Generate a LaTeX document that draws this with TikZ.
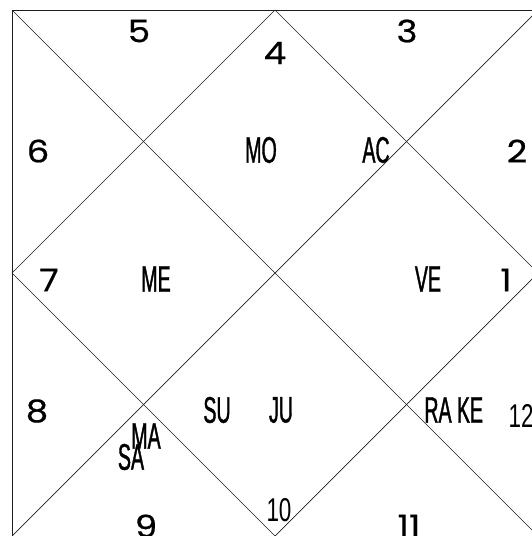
\documentclass[tikz,border=0pt]{standalone}
\usepackage{fontspec}
\newfontfamily\housefont[FakeStretch=1.15,FakeBold=0.6]{Poppins}
\newfontfamily\planetfont[FakeStretch=0.53,FakeBold=1]{Liberation Sans}
\newfontfamily\smallnumfont[FakeStretch=0.68]{Liberation Sans}
\usetikzlibrary{positioning}
\definecolor{chartline}{RGB}{30,30,30}

\begin{document}
\begin{tikzpicture}[x=1pt,y=-1pt,
        num/.style={font=\housefont\fontsize{31}{31}\selectfont,
                    inner sep=0pt},
        pl/.style={font=\planetfont\fontsize{37}{37}\selectfont,
                   inner sep=0pt},
        smallnum/.style={font=\smallnumfont\fontsize{33}{33}\selectfont,
                         inner sep=0pt},
        chart/.style={draw=chartline, line width=0.7pt}
      ]
        \useasboundingbox (0,0) rectangle (532,536);
        \clip (0,0) rectangle (532,536);
        % outer square, diagonals and diamond
        \coordinate (tl) at (12,10);  \coordinate (tr) at (538,10);
        \coordinate (bl) at (12,536); \coordinate (br) at (538,536);
        \coordinate (tm) at (275,10); \coordinate (rm) at (538,273);
        \coordinate (bm) at (275,536); \coordinate (lm) at (12,273);
        \draw[chart] (tl) rectangle (br);
        \draw[chart] (tl) -- (br);
        \draw[chart] (tr) -- (bl);
        \draw[chart] (tm) -- (rm) -- (bm) -- (lm) -- cycle;
        % house numbers
        \node[num] (h1) at (506,280) {1};
        \node[num] (h2) at (517,151) {2};
        \node[num] (h3) at (407,31) {3};
        \node[num] (h4) at (275,53) {4};
        \node[num] (h5) at (139,31) {5};
        \node[num] (h6) at (38,151) {6};
        \node[num] (h7) at (49,280) {7};
        \node[num] (h8) at (37,411) {8};
        \node[num] (h9) at (146,526) {9};
        \node[smallnum] (h10) at (279,510) {10};
        \node[num] (h11) at (409,526) {11};
        \node[smallnum] (h12) at (521,416) {12};
        % planets
        \node[pl] (mo) at (261,150) {MO};
        \node[pl] (ac) at (376,150) {AC};
        \node[pl] (me) at (156,279) {ME};
        \node[pl] (ve) at (428,279) {VE};
        \node[pl] (su) at (217,410) {SU};
        \node[pl] (ju) at (281,410) {JU};
        \node[pl] (ra) at (438,410) {RA};
        \node[pl] (ke) at (470,410) {KE};
        \node[pl] (ma) at (146,436) {MA};
        \node[pl] (sa) at (131,457) {SA};
      \end{tikzpicture}
\end{document}
